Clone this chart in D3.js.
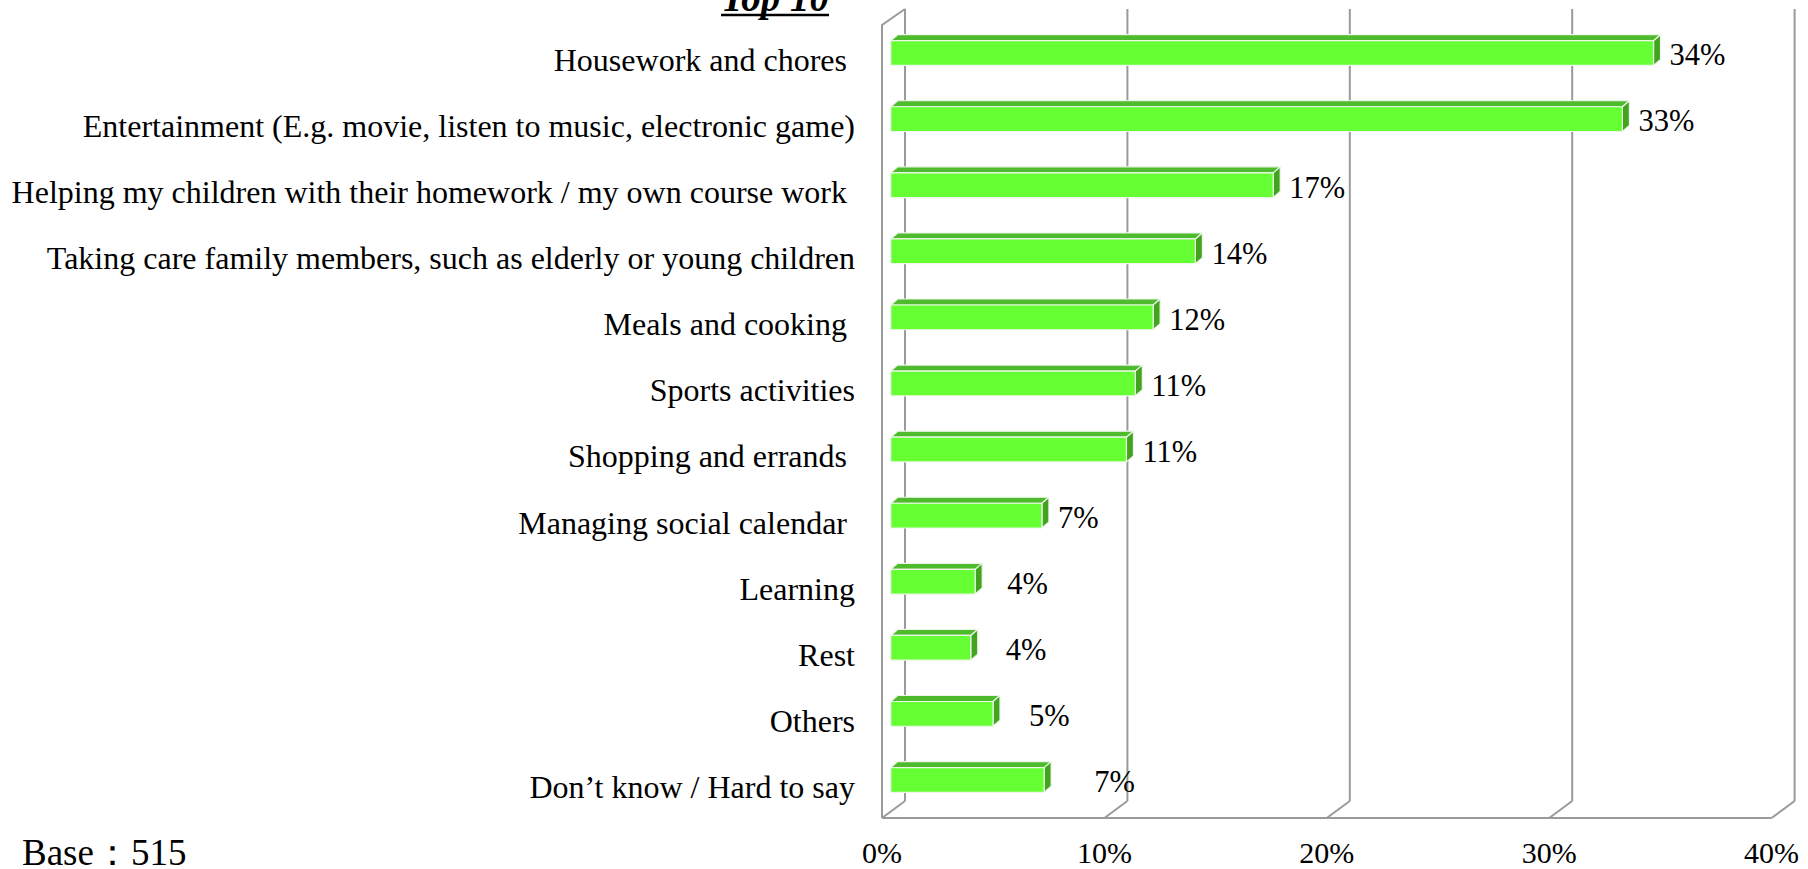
<!DOCTYPE html>
<html>
<head>
<meta charset="utf-8">
<script src="https://cdn.jsdelivr.net/npm/d3@7"></script>
<style>
  html, body { margin: 0; padding: 0; background: #ffffff; }
  svg { display: block; }
  text { font-family: "Liberation Serif", "Times New Roman", serif; fill: #000; white-space: pre; }
</style>
</head>
<body>
<svg id="chart" width="1808" height="869"></svg>
<script>
// Activities, top to bottom
const categories = [
  "Housework and chores ",
  "Entertainment (E.g. movie, listen to music, electronic game)",
  "Helping my children with their homework / my own course work ",
  "Taking care family members, such as elderly or young children",
  "Meals and cooking ",
  "Sports activities",
  "Shopping and errands ",
  "Managing social calendar ",
  "Learning",
  "Rest",
  "Others",
  "Don\u2019t know / Hard to say"
];

// Share of respondents (%)
const values = [34.3, 32.9, 17.2, 13.7, 11.8, 11.0, 10.6, 6.8, 3.8, 3.6, 4.6, 6.9];

// Axis ticks (%)
const tickValues = [0, 10, 20, 30, 40];

// Extra horizontal nudge for a few value labels (px)
const labelNudge = [0, 0, 0, 0, 0, 0, 0, 0, 16, 19, 20, 34];

const titleText = "Top 10";
const baseText = "Base\uFF1A515";

const svg = d3.select("#chart");

// ---- 3D box geometry ----
const floorY = 818;          // front floor edge
const wallTop = 25;          // top of the front-left wall edge
const depthX = 23, depthY = 17;   // offset from front to back wall
const xFront = d3.scaleLinear().domain([0, 40]).range([882, 1771.6]);

// bars sit part-way into the depth of the box
const barDX = 8.7;
const xBar = d3.scaleLinear().domain([0, 40]).range([xFront(0) + barDX, xFront(40) + barDX]);
const y = d3.scaleBand().domain(categories).range([20, 813]).paddingInner(0.626).paddingOuter(0.313);
const sideDX = 7, sideDY = 6;

const gridColor = "#9a9a9a";

const grid = svg.append("g").attr("fill", "none").attr("stroke", gridColor).attr("stroke-width", 2);

// back-wall gridlines
grid.selectAll("line.back").data(tickValues).join("line")
  .attr("class", "back")
  .attr("x1", d => xFront(d) + depthX).attr("x2", d => xFront(d) + depthX)
  .attr("y1", floorY - depthY).attr("y2", 9);

// floor: diagonals at each tick and front edge
grid.selectAll("line.diag").data(tickValues).join("line")
  .attr("class", "diag")
  .attr("x1", d => xFront(d)).attr("y1", floorY)
  .attr("x2", d => xFront(d) + depthX).attr("y2", floorY - depthY);
grid.append("line")
  .attr("x1", xFront(0)).attr("x2", xFront(40))
  .attr("y1", floorY).attr("y2", floorY);

// left side wall outline
grid.append("path")
  .attr("d", `M${xFront(0)},${floorY} L${xFront(0)},${wallTop} L${xFront(0) + depthX},${wallTop - 16}`);

// ---- bars ----
const rows = categories.map((c, i) => ({ cat: c, v: values[i], nudge: labelNudge[i] }));
const bw = y.bandwidth();

const bars = svg.append("g").selectAll("g.bar").data(rows).join("g").attr("class", "bar")
  .attr("stroke", "#eef6ea").attr("stroke-width", 1.2).attr("stroke-linejoin", "round");

// top face
bars.append("path")
  .attr("fill", "#4dbb2b")
  .attr("d", d => {
    const x0 = xBar(0), x1 = xBar(d.v), t = y(d.cat);
    return `M${x0},${t} L${x0 + sideDX},${t - sideDY} L${x1 + sideDX},${t - sideDY} L${x1},${t} Z`;
  });
// right side face
bars.append("path")
  .attr("fill", "#42a31f")
  .attr("d", d => {
    const x1 = xBar(d.v), t = y(d.cat);
    return `M${x1},${t} L${x1 + sideDX},${t - sideDY} L${x1 + sideDX},${t + bw - sideDY} L${x1},${t + bw} Z`;
  });
// front face
bars.append("rect")
  .attr("fill", "#66ff33")
  .attr("x", xBar(0))
  .attr("y", d => y(d.cat))
  .attr("width", d => xBar(d.v) - xBar(0))
  .attr("height", bw);

// value labels
const fmt = v => d3.format(".0f")(v) + "%";
svg.append("g").selectAll("text").data(rows).join("text")
  .attr("x", d => xBar(d.v) + 16 + d.nudge)
  .attr("y", d => y(d.cat) + bw)
  .attr("font-size", 30.5)
  .text(d => fmt(d.v));

// category labels
svg.append("g").selectAll("text").data(rows).join("text")
  .attr("x", 855)
  .attr("y", d => y(d.cat) + bw / 2 + 6.4)
  .attr("dy", "0.36em")
  .attr("text-anchor", "end")
  .attr("font-size", 32)
  .text(d => d.cat);

// x-axis tick labels
svg.append("g").selectAll("text").data(tickValues).join("text")
  .attr("x", d => xFront(d))
  .attr("y", 863)
  .attr("text-anchor", "middle")
  .attr("font-size", 30)
  .text(d => d + "%");

// title with underline
const title = svg.append("text")
  .attr("x", 775).attr("y", 11)
  .attr("text-anchor", "middle")
  .attr("font-size", 39)
  .attr("font-weight", "bold")
  .attr("font-style", "italic")
  .text(titleText);
const tw = title.node().getComputedTextLength();
svg.append("line")
  .attr("x1", 775 - tw / 2).attr("x2", 775 + tw / 2)
  .attr("y1", 15).attr("y2", 15)
  .attr("stroke", "#000").attr("stroke-width", 2.5);

// sample size note
svg.append("text")
  .attr("x", 22).attr("y", 865)
  .attr("font-size", 37)
  .text(baseText);
</script>
</body>
</html>
